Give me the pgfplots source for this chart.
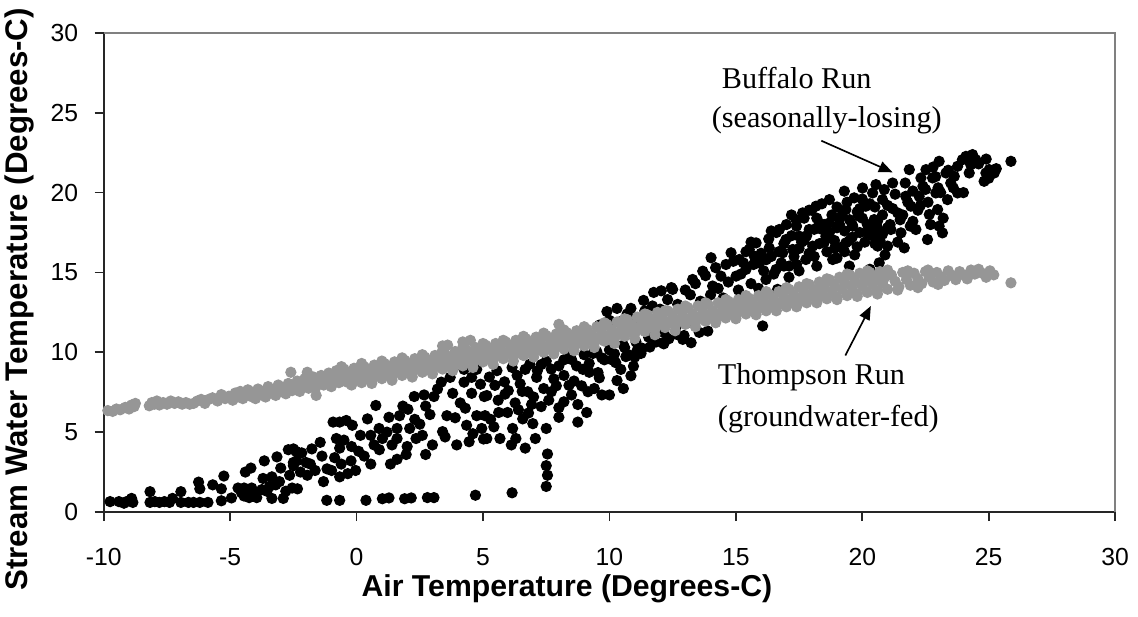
\documentclass[border=0pt]{standalone}
\usepackage{pgfplots}
\pgfplotsset{compat=1.18}
\usepackage{fontspec}
\setmainfont{Liberation Sans}
\newfontfamily\timesfont{Liberation Serif}
\usetikzlibrary{arrows.meta}
\definecolor{tgray}{RGB}{150,150,150}
\begin{document}
\begin{tikzpicture}
\begin{axis}[
  scale only axis, width=368.4pt, height=174.5pt,
  xmin=-10, xmax=30, ymin=0, ymax=30,
  xtick={-10,-5,0,5,10,15,20,25,30},
  xticklabels={-10,-5,0,5,10,15,20,25,30},
  ytick={0,5,10,15,20,25,30},
  yticklabels={0,5,10,15,20,25,30},
  axis x line*=bottom, axis y line*=left,
  axis line style={black!85, line width=0.6pt},
  tick style={black!85, line width=0.6pt},
  tick align=outside, major tick length=3.3pt,
  ticklabel style={font=\fontsize{9}{10}\selectfont},
  xticklabel style={yshift=-6.5pt},
  yticklabel style={xshift=-2.5pt},
  xlabel={\textbf{Air Temperature (Degrees-C)}},
  ylabel={\textbf{Stream Water Temperature (Degrees-C)}},
  xlabel style={font=\fontsize{11}{12}\selectfont, inner sep=0pt, at={(axis description cs:0.458,-0.16)}, anchor=center},
  ylabel style={font=\fontsize{11.4}{12}\selectfont, inner sep=0pt, at={(axis description cs:-0.083,0.444)}, anchor=center},
  clip=false,
]
\draw[gray, line width=0.6pt] (rel axis cs:0,1) -- (rel axis cs:1,1) -- (rel axis cs:1,0);
% Buffalo Run (black)
\addplot[only marks, mark=*, mark size=1.85pt, color=black] table {
x y
-9.75 0.65
-9.4 0.65
-9.2 0.55
-9.1 0.65
-8.9 0.85
-8.85 0.6
-8.17 1.27
-8.17 0.6
-7.98 0.65
-7.8 0.6
-7.6 0.65
-7.4 0.6
-7.28 0.85
-6.95 1.27
-6.95 0.6
-6.65 0.6
-6.45 0.6
-6.25 1.87
-6.2 1.45
-6.2 0.6
-5.88 0.6
-5.69 1.7
-5.35 1.45
-5.35 0.7
-5.25 2.25
-4.95 0.88
-4.69 1.5
-4.4 2.5
-4.18 2.75
-4.55 1.2
-4.45 1.0
-4.35 1.4
-4.25 1.1
-4.15 1.5
-4.05 1.2
-3.95 0.9
-4.25 0.9
-4.45 1.5
-4.3 1.25
-4.1 1.0
-3.65 3.2
-3.7 2.1
-3.55 1.3
-3.35 0.85
-3.35 2.2
-3.15 3.45
-3.0 2.75
-2.9 0.85
-3.2 1.7
-2.7 3.9
-2.5 3.1
-2.4 3.8
-2.55 1.5
-2.8 1.3
-3.45 1.6
-3.75 1.4
-3.05 1.9
-2.65 2.3
-2.5 3.95
-2.37 3.2
-2.5 2.9
-2.17 3.7
-2.22 2.5
-2.34 1.45
-2.0 3.1
-1.95 2.3
-1.77 3.95
-1.83 3.0
-1.64 2.6
-1.44 4.36
-1.37 3.5
-1.31 1.9
-1.17 2.7
-1.18 0.73
-0.67 0.73
-0.93 5.63
-0.67 5.63
-0.41 5.73
-0.8 4.6
-0.67 4.0
-0.87 3.4
-0.99 2.6
-0.61 3.0
-0.67 2.2
-0.35 2.4
-0.22 3.2
-0.17 5.43
0.08 3.8
0.15 4.8
-0.04 2.6
0.43 5.83
0.76 6.67
0.56 4.8
0.69 4.2
0.37 0.73
0.56 3.0
0.89 5.23
1.02 4.6
1.02 0.83
1.28 0.88
1.28 5.93
1.34 3.0
1.6 3.3
1.4 4.2
1.6 5.23
1.7 6.03
1.83 6.63
1.9 0.83
2.03 6.43
2.1 5.23
1.96 3.6
2.16 0.88
2.28 7.23
2.35 4.6
2.67 7.33
2.6 4.8
2.73 6.63
2.73 3.6
2.8 0.9
3.06 0.9
3.06 7.23
3.0 4.2
3.35 8.13
3.7 8.43
3.57 6.03
3.4 5.03
3.8 7.43
3.96 4.2
4.1 6.83
4.25 8.13
4.35 5.43
4.45 4.4
4.55 8.43
4.55 7.43
4.7 1.05
4.75 6.03
4.95 5.23
5.05 7.23
5.15 4.6
4.75 8.93
4.25 8.93
6.15 1.2
5.02 4.57
5.08 6.03
5.15 7.29
5.43 5.33
5.47 7.93
5.62 6.23
5.67 4.6
5.87 7.38
5.97 6.23
6.12 4.2
6.17 5.23
6.27 6.83
6.47 8.03
6.57 5.83
6.67 4.0
6.67 8.93
6.77 7.53
6.92 6.73
6.97 5.53
7.07 4.6
7.12 8.43
7.3 9.23
7.4 7.73
7.5 5.23
7.55 3.63
7.5 2.9
7.55 2.3
7.5 1.6
7.7 7.53
7.8 8.33
8.0 6.53
8.0 5.93
8.2 9.53
8.35 9.73
8.4 7.93
8.5 7.33
8.75 6.73
8.75 5.63
8.95 8.93
9.1 6.23
9.15 7.53
9.35 9.93
9.4 7.73
9.55 8.73
9.7 7.33
9.8 9.53
9.9 12.55
10.0 7.33
10.1 9.53
10.3 12.75
10.3 8.23
10.45 8.93
10.55 7.73
10.65 9.73
10.85 12.75
10.85 8.53
10.95 9.13
11.1 10.13
11.25 9.93
11.35 13.25
11.6 10.33
11.75 13.75
12.05 13.85
12.15 10.53
12.45 14.05
12.65 11.13
5.25 8.45
5.55 8.85
5.85 8.15
6.15 9.05
6.35 8.55
6.55 7.55
6.85 9.25
7.15 8.85
7.5 9.45
7.7 8.95
8.0 9.15
8.2 8.55
8.5 9.55
8.7 9.15
9.0 9.85
9.2 8.75
9.5 10.05
9.7 9.65
10.0 10.15
10.25 9.35
10.55 10.45
10.75 9.85
11.05 10.65
11.3 10.25
11.55 10.95
11.85 10.65
12.15 11.25
12.35 10.85
12.65 11.65
12.95 11.05
13.25 11.85
13.55 11.25
13.85 12.15
9.6 11.7
10.0 12.0
10.4 11.9
10.7 12.4
11.0 12.1
11.4 12.6
11.7 12.9
12.0 12.7
12.3 13.3
12.7 13.0
13.0 13.9
12.11 10.6
12.5 13.94
12.9 10.81
13.23 10.6
13.29 14.56
13.69 15.08
13.89 11.33
14.02 15.92
14.08 14.15
14.41 14.77
14.61 15.5
14.81 16.23
15.01 14.77
15.14 15.81
15.4 15.19
15.53 16.44
15.73 16.02
15.8 16.85
15.93 15.6
16.06 11.65
16.19 14.56
16.32 16.54
16.59 15.19
16.65 13.94
16.72 17.69
16.85 16.23
16.98 17.06
17.11 15.4
17.25 16.44
17.38 18.31
17.51 17.27
17.64 18.73
17.77 15.81
17.9 17.69
18.04 16.65
18.17 19.15
18.3 18.1
18.56 17.27
18.7 19.56
18.83 15.81
19.09 18.31
19.35 16.85
19.49 15.4
19.62 17.9
19.29 20.09
19.35 18.94
19.68 19.67
19.88 18.52
20.01 20.29
20.14 19.15
20.28 17.69
20.41 19.98
20.47 18.31
20.54 20.5
20.61 16.65
20.67 15.6
20.8 19.56
20.87 20.19
21.0 16.65
21.13 17.69
21.2 20.6
21.4 18.73
21.53 17.48
21.66 16.54
21.72 19.77
21.86 21.44
21.92 19.15
22.12 17.69
22.25 19.77
22.32 20.92
22.52 21.44
22.58 17.06
22.65 18.63
22.78 20.92
22.91 19.98
22.98 18.94
23.04 21.96
23.04 17.9
23.17 17.48
23.31 21.23
23.37 19.56
23.64 21.02
23.77 21.65
23.77 19.98
23.96 22.06
24.1 22.27
24.23 21.23
24.36 22.38
24.49 22.06
24.29 21.75
24.82 20.71
24.89 21.23
25.02 21.44
25.22 21.23
25.88 21.96
13.2 13.6
13.4 14.3
13.6 13.2
13.8 14.8
14.0 13.6
14.2 15.3
14.3 14.0
14.5 13.4
14.7 14.4
14.9 15.7
15.1 13.9
15.2 14.9
15.4 16.3
15.6 14.3
15.7 15.5
15.9 14.0
16.0 16.2
16.1 15.1
16.3 17.1
16.4 16.0
16.5 14.9
16.6 17.5
16.8 15.6
16.9 16.8
17.0 18.0
17.1 14.7
17.2 17.3
17.3 16.0
17.4 17.9
17.5 15.1
17.6 16.9
17.7 18.4
17.8 17.3
17.9 16.2
18.0 18.9
18.1 17.7
18.2 15.4
18.3 16.8
18.4 19.3
18.5 18.0
18.6 16.3
18.7 17.5
18.8 18.6
18.9 17.0
19.0 19.1
19.0 15.9
19.1 18.0
19.2 16.6
19.3 17.6
19.4 19.4
19.5 18.3
19.6 17.2
19.7 16.1
19.8 18.8
19.9 17.5
20.0 19.6
20.1 16.9
20.2 18.0
20.3 15.2
20.4 17.3
20.5 19.1
20.6 18.2
20.7 17.0
20.8 18.6
20.9 16.1
21.0 19.2
21.1 18.0
21.3 19.9
21.5 18.3
21.7 20.6
21.9 17.9
22.0 20.1
22.2 18.9
22.4 20.4
22.6 19.4
22.8 21.6
23.0 20.3
23.2 18.4
23.5 20.6
24.0 20.0
24.6 21.8
24.9 22.1
25.0 20.9
25.3 21.5
17.2 18.6
17.5 16.5
17.7 17.0
17.9 18.9
18.1 16.0
18.2 18.4
18.4 17.7
18.5 16.9
18.7 18.1
18.9 16.5
19.0 17.8
19.2 18.6
19.3 16.3
19.5 17.0
19.6 18.0
19.8 16.6
19.9 19.0
20.0 18.4
20.2 17.5
20.3 19.3
20.5 16.8
20.6 17.8
20.8 17.4
21.0 17.8
21.2 19.0
21.4 16.9
21.6 18.6
21.8 19.4
22.0 18.2
22.3 19.2
22.5 20.2
22.7 18.0
22.9 21.0
23.1 20.0
23.4 21.4
23.6 20.3
15.3 15.6
15.6 16.9
16.2 15.8
16.4 17.6
16.7 16.3
16.9 15.4
17.4 15.5
2.5 5.5
2.9 6.1
3.2 7.7
3.5 4.7
3.9 5.9
4.3 6.5
4.6 4.9
4.9 8.0
5.3 5.8
5.6 7.0
6.0 7.6
6.3 4.6
6.4 6.4
6.8 6.2
7.0 7.2
7.3 6.6
7.6 7.0
7.9 7.9
8.2 6.9
8.6 8.2
8.9 7.9
9.2 9.3
9.6 8.4
10.2 9.9
10.6 10.3
11.0 9.7
-0.5 4.5
-0.2 4.1
0.3 3.5
0.9 3.9
1.2 5.0
1.6 4.6
2.0 4.1
2.3 5.8
};
% Thompson Run (gray)
\addplot[only marks, mark=*, mark size=1.85pt, color=tgray] table {
x y
-9.84 6.35
-9.65 6.3
-9.5 6.45
-9.35 6.4
-9.15 6.55
-9.0 6.45
-8.9 6.7
-8.8 6.6
-8.75 6.8
-8.2 6.65
-8.1 6.85
-8.0 6.75
-7.9 6.95
-7.8 6.7
-7.65 6.85
-7.5 6.75
-7.35 6.95
-7.2 6.8
-7.05 6.9
-6.9 6.75
-6.75 6.85
-6.6 6.75
-6.45 6.8
-6.3 6.95
-6.15 7.05
-6.0 6.8
-5.85 7.05
-5.7 7.15
-5.5 6.95
-5.35 7.35
-5.2 7.1
-5.05 7.25
-4.9 7.0
-4.8 7.45
-4.7 7.2
-4.6 7.55
-4.5 7.1
-4.4 7.35
-4.3 7.65
-4.2 7.25
-4.1 7.5
-4.0 7.1
-3.9 7.7
-3.8 7.35
-3.7 7.55
-3.6 7.2
-3.5 7.85
-3.4 7.45
-3.3 7.65
-3.2 7.3
-3.1 7.95
-3.0 7.55
-2.9 7.8
-2.8 7.4
-2.7 8.05
-2.6 8.75
-2.55 7.6
-2.45 7.95
-2.35 8.2
-2.25 7.55
-2.15 8.0
-2.05 8.35
-1.95 8.75
-1.9 7.75
-1.8 8.15
-1.7 8.45
-1.6 7.85
-1.6 7.3
-1.5 8.2
-1.4 8.55
-1.3 7.95
-1.2 8.3
-1.1 8.7
-1.0 8.0
-0.9 8.4
-0.8 8.85
-0.7 8.1
-0.6 8.5
-0.5 8.95
-0.4 8.15
-0.3 8.6
-0.2 8.05
-0.1 9.0
0.0 8.35
0.1 8.7
0.2 8.1
0.3 9.1
0.4 8.5
0.5 8.85
0.6 8.2
0.7 9.2
0.8 8.6
0.9 8.95
1.0 8.35
1.1 9.3
1.2 8.7
1.3 9.05
1.4 8.45
1.5 9.4
1.6 8.8
1.7 9.15
1.8 8.55
1.9 9.5
2.0 8.9
2.1 9.25
2.2 8.65
2.3 9.6
2.4 9.0
2.5 9.35
2.6 8.75
2.7 9.7
2.8 9.1
2.9 9.45
3.0 8.85
3.1 9.8
3.2 9.25
3.3 9.55
3.4 8.95
3.4 10.4
3.5 9.9
3.6 9.35
3.6 10.45
3.7 9.65
3.8 9.05
3.9 10.05
4.0 9.45
4.1 9.8
4.2 9.15
4.2 10.65
4.3 10.2
4.4 9.6
4.5 9.9
4.5 10.75
4.6 9.3
4.7 10.3
4.8 9.7
4.9 10.0
5.0 9.4
5.1 10.45
5.2 9.8
5.3 10.1
5.4 9.5
5.5 10.55
5.6 9.9
5.7 10.2
5.8 9.6
5.9 10.65
6.0 10.0
6.1 10.3
6.2 9.7
6.3 10.75
6.4 10.1
6.5 10.4
6.6 9.8
6.7 10.85
6.8 10.2
6.9 10.5
7.0 9.9
7.1 10.95
7.2 10.3
7.3 10.6
7.4 10.0
7.5 11.05
7.6 10.4
7.7 10.7
7.8 10.1
7.9 11.15
8.0 10.5
8.0 11.75
8.1 10.8
8.2 10.2
8.3 11.25
8.4 10.6
8.5 10.9
8.6 10.3
8.7 11.35
8.8 10.7
8.9 11.0
9.0 10.4
9.1 11.45
9.2 10.8
9.3 11.1
9.4 10.55
9.5 11.6
9.6 10.9
9.7 11.25
9.8 10.7
9.9 11.75
10.0 11.05
10.1 11.4
10.2 10.85
10.3 11.9
10.4 11.2
10.5 11.55
10.6 11.0
10.7 12.05
10.8 11.35
10.9 11.7
11.0 11.15
11.1 12.2
11.2 11.5
11.3 11.85
11.4 11.3
11.5 12.35
11.6 11.65
11.7 12.0
11.8 11.45
11.9 12.5
12.0 11.8
12.1 12.1
12.2 11.55
12.3 12.6
12.4 11.9
12.5 12.2
12.6 11.65
12.7 12.7
12.8 12.0
12.9 12.3
13.0 11.75
13.1 12.8
13.2 12.1
13.3 12.4
13.4 11.85
13.5 12.9
13.6 12.2
13.7 12.5
13.8 11.95
13.9 13.0
14.0 12.3
14.1 12.6
14.2 12.05
14.3 13.1
14.4 12.4
14.5 12.75
14.6 12.15
14.7 13.2
14.8 12.5
14.9 12.85
15.0 12.3
15.1 13.3
15.2 12.65
15.3 12.95
15.4 12.4
15.5 13.4
15.6 12.75
15.7 13.05
15.8 12.5
15.9 13.55
16.0 12.85
16.1 13.2
16.2 12.6
16.3 13.65
16.4 12.95
16.5 13.3
16.6 12.75
16.7 13.8
16.8 13.1
16.9 13.45
17.0 12.85
17.1 13.95
17.2 13.25
17.3 13.6
17.4 13.0
17.5 14.1
17.6 13.4
17.7 13.75
17.8 13.1
17.9 14.25
18.0 13.55
18.1 13.9
18.2 13.25
18.3 14.4
18.4 13.7
18.5 14.05
18.6 13.35
18.7 14.55
18.8 13.8
18.9 14.2
19.0 13.45
19.1 14.7
19.2 13.95
19.3 14.35
19.4 13.55
19.5 14.85
19.6 14.05
19.7 14.45
19.8 13.65
19.9 14.95
20.0 14.15
20.1 14.55
20.2 13.75
20.3 15.0
20.4 14.25
20.5 14.65
20.6 13.85
20.7 15.05
20.8 14.35
20.9 14.7
21.0 13.95
21.15 14.85
21.3 14.45
21.45 14.1
21.6 15.0
21.75 14.55
21.9 14.2
22.05 14.95
22.2 14.6
22.35 14.3
22.5 15.05
22.65 14.7
22.8 14.4
22.95 15.0
23.1 14.75
23.25 14.5
23.4 15.1
23.55 14.8
23.7 14.55
23.85 15.05
24.0 14.85
24.15 14.6
24.3 15.15
24.45 14.9
24.6 15.2
24.75 14.95
24.9 14.7
25.05 15.1
25.2 14.85
25.88 14.35
-1.0 7.85
-0.6 9.1
-0.2 7.95
0.2 9.3
0.6 8.05
1.0 9.45
1.4 8.25
1.8 9.65
2.2 8.45
2.6 9.85
3.0 8.65
3.4 10.1
3.8 8.85
4.2 10.3
4.6 9.05
5.0 10.55
5.4 9.25
5.8 10.75
6.2 9.45
6.6 11.0
7.0 9.7
7.4 11.2
7.8 9.9
8.2 11.4
8.6 10.1
9.0 11.6
9.4 10.3
9.8 11.85
10.2 10.55
10.6 12.1
11.0 10.85
11.4 12.4
11.8 11.1
12.2 12.6
12.6 11.35
13.0 12.9
13.4 11.6
13.8 13.1
14.2 11.85
14.6 13.3
15.0 12.1
15.4 13.55
15.8 12.35
16.2 13.8
16.6 12.6
17.0 14.05
17.4 12.85
17.8 14.3
18.2 13.1
18.6 14.6
19.0 13.3
19.4 14.9
19.8 13.5
20.2 15.1
20.6 13.65
21.0 15.15
21.4 13.9
21.8 15.1
22.2 14.05
22.6 15.15
23.0 14.25
};
\node[anchor=west, inner sep=0pt, font=\timesfont\fontsize{11}{12}\selectfont] at (axis cs:14.43,27.2) {Buffalo Run};
\node[anchor=west, inner sep=0pt, font=\timesfont\fontsize{11}{12}\selectfont] at (axis cs:14.03,24.56) {(seasonally-losing)};
\node[anchor=west, inner sep=0pt, font=\timesfont\fontsize{11}{12}\selectfont] at (axis cs:14.27,8.44) {Thompson Run};
\node[anchor=west, inner sep=0pt, font=\timesfont\fontsize{11}{12}\selectfont] at (axis cs:14.27,5.81) {(groundwater-fed)};
\draw[line width=0.6pt, -{Triangle[length=5pt,width=4pt]}] (axis cs:18.38,23.25) -- (axis cs:21.2,21.27);
\draw[line width=0.6pt, -{Triangle[length=5pt,width=4pt]}] (axis cs:19.33,9.8) -- (axis cs:20.34,12.9);
\end{axis}
\path ([xshift=-37.8pt,yshift=-38.2pt]current axis.south west) rectangle ([xshift=7.6pt,yshift=12pt]current axis.north east);
\end{tikzpicture}
\end{document}
